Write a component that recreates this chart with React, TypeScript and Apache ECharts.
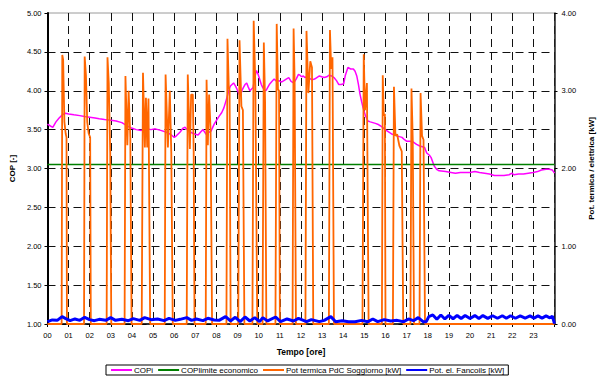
import React, { useEffect, useRef } from "react";
import * as echarts from "echarts";

const hourLabels = ["00","01","02","03","04","05","06","07","08","09","10","11","12","13","14","15","16","17","18","19","20","21","22","23"];
const copTicks = [1, 1.5, 2, 2.5, 3, 3.5, 4, 4.5, 5];
const legendNames = ["COPi", "COPlimite economico", "Pot termica PdC Soggiorno [kW]", "Pot. el. Fancoils [kW]"];

const copLimite = 3.05;

const copi: [number, number][] = [
  [0.00,3.57],[0.12,3.55],[0.25,3.53],[0.40,3.60],[0.55,3.65],[0.70,3.69],[0.85,3.71],[1.00,3.70],
  [1.25,3.69],[1.53,3.68],[1.75,3.67],[2.00,3.66],[2.25,3.65],[2.45,3.64],[2.70,3.63],[3.00,3.62],
  [3.25,3.61],[3.52,3.59],[3.75,3.55],[3.98,3.52],[4.20,3.50],[4.44,3.49],[4.65,3.51],[4.90,3.50],
  [5.10,3.51],[5.36,3.49],[5.60,3.47],[5.82,3.44],[6.00,3.40],[6.10,3.42],[6.28,3.47],[6.42,3.52],
  [6.51,3.53],[6.65,3.49],[6.82,3.46],[7.00,3.44],[7.13,3.43],[7.25,3.47],[7.36,3.50],[7.51,3.44],
  [7.62,3.46],[7.74,3.48],[7.89,3.57],[8.00,3.62],[8.12,3.67],[8.25,3.72],[8.35,3.78],[8.45,3.87],
  [8.51,3.93],[8.60,4.02],[8.66,4.06],[8.81,4.10],[8.90,4.06],[8.97,4.02],[9.05,3.97],[9.12,3.93],
  [9.20,4.00],[9.27,4.04],[9.35,4.08],[9.43,4.10],[9.50,4.05],[9.58,4.00],[9.65,4.02],[9.73,4.04],
  [9.82,4.18],[9.89,4.26],[9.96,4.22],[10.04,4.15],[10.12,4.08],[10.19,4.04],[10.27,4.01],[10.34,4.00],
  [10.42,4.04],[10.50,4.08],[10.62,4.12],[10.73,4.15],[10.85,4.12],[10.96,4.13],[11.07,4.11],[11.19,4.13],
  [11.30,4.15],[11.42,4.17],[11.53,4.12],[11.65,4.10],[11.77,4.15],[11.88,4.21],[11.95,4.20],[12.03,4.18],
  [12.11,4.19],[12.18,4.17],[12.30,4.18],[12.41,4.16],[12.52,4.14],[12.64,4.15],[12.75,4.17],[12.87,4.19],
  [12.98,4.18],[13.10,4.17],[13.22,4.18],[13.33,4.20],[13.45,4.19],[13.56,4.17],[13.68,4.13],[13.79,4.08],
  [13.90,4.08],[14.02,4.09],[14.10,4.20],[14.22,4.30],[14.35,4.28],[14.48,4.28],[14.56,4.25],[14.64,4.19],
  [14.72,4.08],[14.79,3.96],[14.87,3.86],[14.94,3.78],[15.05,3.68],[15.17,3.61],[15.28,3.60],[15.40,3.59],
  [15.52,3.58],[15.63,3.57],[15.75,3.55],[15.86,3.53],[15.98,3.50],[16.09,3.48],[16.20,3.46],[16.32,3.44],
  [16.44,3.43],[16.55,3.42],[16.66,3.41],[16.78,3.40],[16.90,3.37],[17.01,3.35],[17.16,3.35],[17.32,3.34],
  [17.47,3.31],[17.62,3.29],[17.75,3.28],[17.85,3.27],[17.95,3.20],[18.08,3.17],[18.16,3.14],[18.31,3.03],
  [18.42,2.99],[18.54,2.97],[18.85,2.96],[19.10,2.95],[19.31,2.94],[19.55,2.95],[19.77,2.95],[20.00,2.95],
  [20.23,2.96],[20.45,2.95],[20.69,2.94],[20.92,2.93],[21.15,2.91],[21.40,2.91],[21.61,2.91],[21.85,2.92],
  [21.99,2.94],[22.07,2.92],[22.30,2.93],[22.53,2.93],[22.76,2.94],[22.99,2.95],[23.20,2.96],[23.38,2.98],
  [23.60,2.99],[23.76,2.99],[23.90,2.98],[24.00,2.94]
];

const potTermica: [number, number][] = [
  [0,0],[0.67,0],[0.70,3.46],[0.74,3.40],[0.80,2.60],[0.86,2.45],[0.90,2.40],[0.92,0],
  [1.73,0],[1.76,3.44],[1.82,3.20],[1.88,2.60],[1.95,2.45],[2.02,2.40],[2.05,0],
  [2.80,0],[2.84,3.43],[2.90,3.10],[2.97,2.20],[3.02,0],
  [3.65,0],[3.69,3.19],[3.78,2.30],[3.84,3.00],[3.92,2.40],[3.98,0],
  [4.46,0],[4.52,3.23],[4.61,2.27],[4.66,2.91],[4.72,2.27],[4.78,2.90],[4.86,0],
  [5.55,0],[5.59,3.21],[5.70,2.27],[5.79,3.00],[5.86,2.20],[5.93,0],
  [6.59,0],[6.64,3.21],[6.74,2.25],[6.80,2.95],[6.88,2.95],[6.92,2.20],[6.96,0],
  [7.49,0],[7.53,3.14],[7.59,2.30],[7.65,2.95],[7.72,2.50],[7.79,0],
  [8.47,0],[8.52,3.67],[8.58,3.06],[8.62,3.00],[8.67,0],
  [9.03,0],[9.09,3.65],[9.18,2.80],[9.25,2.75],[9.32,0],
  [9.70,0],[9.76,3.90],[9.84,3.06],[9.93,0],
  [10.18,0],[10.24,3.62],[10.30,2.85],[10.36,0],
  [10.79,0],[10.85,3.86],[10.91,3.02],[10.96,3.00],[11.00,0],
  [11.60,0],[11.65,3.80],[11.70,3.10],[11.76,0],
  [12.21,0],[12.26,3.77],[12.35,2.97],[12.44,3.38],[12.52,3.30],[12.58,0],
  [13.32,0],[13.37,3.78],[13.43,3.28],[13.49,3.43],[13.56,0],
  [14.91,0],[14.97,3.47],[15.03,2.75],[15.12,3.10],[15.20,0],
  [15.83,0],[15.87,3.20],[15.92,2.68],[15.97,2.70],[16.00,0],
  [16.35,0],[16.40,3.05],[16.47,2.42],[16.55,2.44],[16.66,2.29],[16.77,2.22],[16.84,0],
  [17.18,0],[17.23,3.03],[17.29,2.37],[17.35,0],
  [17.61,0],[17.66,2.97],[17.73,2.42],[17.80,2.37],[17.87,0],
  [24,0]
];

const potFancoils: [number, number][] = [
  [0.00,0.030],[0.23,0.052],[0.46,0.047],[0.69,0.095],[0.84,0.073],[1.07,0.043],[1.30,0.065],[1.53,0.047],
  [1.76,0.086],[1.99,0.056],[2.22,0.043],[2.45,0.060],[2.76,0.047],[2.99,0.082],[3.22,0.047],[3.52,0.060],
  [3.83,0.043],[4.06,0.069],[4.37,0.047],[4.60,0.082],[4.90,0.056],[5.21,0.065],[5.52,0.043],[5.75,0.073],
  [6.05,0.047],[6.28,0.060],[6.59,0.082],[6.82,0.047],[7.05,0.065],[7.36,0.043],[7.59,0.073],[7.89,0.052],
  [8.12,0.047],[8.43,0.095],[8.66,0.039],[8.89,0.086],[9.12,0.030],[9.35,0.090],[9.58,0.039],[9.81,0.082],
  [10.04,0.030],[10.19,0.082],[10.42,0.039],[10.80,0.090],[11.03,0.030],[11.34,0.065],[11.65,0.039],[11.88,0.073],
  [12.26,0.030],[12.49,0.056],[12.87,0.030],[13.10,0.047],[13.41,0.095],[13.64,0.030],[13.95,0.043],[14.25,0.030],
  [14.56,0.030],[14.87,0.047],[15.17,0.030],[15.40,0.065],[15.63,0.030],[15.94,0.056],[16.25,0.039],[16.55,0.047],
  [16.86,0.030],[17.09,0.065],[17.32,0.043],[17.55,0.082],[17.78,0.030],[17.93,0.030],[18.05,0.095],[18.24,0.116],
  [18.43,0.060],[18.62,0.116],[18.81,0.065],[19.00,0.112],[19.20,0.068],[19.39,0.110],[19.58,0.070],[19.77,0.110],
  [20.00,0.070],[20.23,0.108],[20.42,0.072],[20.61,0.108],[20.84,0.072],[21.07,0.106],[21.30,0.074],[21.53,0.106],
  [21.72,0.074],[21.92,0.106],[22.15,0.074],[22.38,0.104],[22.61,0.076],[22.84,0.104],[23.03,0.076],[23.22,0.104],
  [23.41,0.076],[23.60,0.104],[23.78,0.080],[23.90,0.100],[24.00,0.005]
];

const FONT = "'Liberation Sans', Arial, sans-serif";

export default function App() {
  const ref = useRef<HTMLDivElement>(null);
  useEffect(() => {
    if (!ref.current) return;
    const chart = echarts.init(ref.current, undefined, { renderer: "svg" });
    const gridColors = copTicks.map((t, i) => (i === copTicks.length - 1 ? "transparent" : "#111"));
    chart.setOption({
      animation: false,
      backgroundColor: "#fff",
      textStyle: { fontFamily: FONT },
      grid: { left: 46, right: 34, top: 13, bottom: 55, show: true, borderColor: "#9a9a9a", borderWidth: 1, backgroundColor: "transparent" },
      legend: {
        data: legendNames,
        left: 106,
        top: 365,
        padding: [1, 4, 1, 4],
        itemGap: 4,
        itemWidth: 21,
        itemHeight: 10,
        itemStyle: { opacity: 0 },
        borderColor: "#000",
        borderWidth: 1,
        textStyle: { fontSize: 8, color: "#000", fontFamily: FONT, padding: [0, 0, 0, -3] },
      },
      xAxis: {
        type: "value",
        min: 0,
        max: 24,
        interval: 1,
        name: "Tempo [ore]",
        nameLocation: "middle",
        nameGap: 23,
        nameTextStyle: { fontSize: 8.5, fontWeight: "bold", color: "#000", fontFamily: FONT },
        axisLine: { onZero: false, lineStyle: { color: "#000", width: 1.5 } },
        axisTick: { show: true, length: 3, lineStyle: { color: "#000" } },
        axisLabel: {
          fontSize: 7.5,
          color: "#000",
          margin: 7,
          fontFamily: FONT,
          formatter: (v: number) => hourLabels[v] ?? "",
        },
        splitLine: { show: true, lineStyle: { color: "#111", type: [8, 5], width: 1 } },
      },
      yAxis: [
        {
          type: "value",
          min: 1,
          max: 5,
          interval: 0.5,
          name: "COP [-]",
          nameLocation: "middle",
          nameGap: 28,
          nameTextStyle: { fontSize: 8, fontWeight: "bold", color: "#000", fontFamily: FONT },
          axisLine: { show: true, lineStyle: { color: "#000", width: 2 } },
          axisTick: { show: true, length: 3, lineStyle: { color: "#000" } },
          axisLabel: { fontSize: 7.5, color: "#000", margin: 6, fontFamily: FONT, formatter: (v: number) => v.toFixed(2) },
          splitLine: { show: true, lineStyle: { color: gridColors, type: [8, 5], width: 1 } },
        },
        {
          type: "value",
          min: 0,
          max: 4,
          interval: 1,
          position: "right",
          name: "Pot. termica / elettrica [kW]",
          nameLocation: "middle",
          nameGap: 31,
          nameTextStyle: { fontSize: 8, fontWeight: "bold", color: "#000", fontFamily: FONT },
          axisLine: { show: true, lineStyle: { color: "#222", width: 1.5 } },
          axisTick: { show: true, length: 3, lineStyle: { color: "#000" } },
          axisLabel: { fontSize: 7.5, color: "#000", margin: 7, fontFamily: FONT, formatter: (v: number) => v.toFixed(2) },
          splitLine: { show: false },
        },
      ],
      series: [
        {
          name: legendNames[0],
          type: "line",
          yAxisIndex: 0,
          data: copi,
          symbol: "none",
          lineStyle: { color: "#FF00FF", width: 1.5 },
          itemStyle: { color: "#FF00FF" },
        },
        {
          name: legendNames[1],
          type: "line",
          yAxisIndex: 0,
          data: [[0, copLimite], [24, copLimite]],
          symbol: "none",
          lineStyle: { color: "#008000", width: 1.5 },
          itemStyle: { color: "#008000" },
        },
        {
          name: legendNames[2],
          type: "line",
          yAxisIndex: 1,
          data: potTermica,
          symbol: "none",
          lineStyle: { color: "#FF6600", width: 1.8 },
          itemStyle: { color: "#FF6600" },
        },
        {
          name: legendNames[3],
          type: "line",
          yAxisIndex: 1,
          data: potFancoils,
          symbol: "none",
          lineStyle: { color: "#0000FF", width: 3 },
          itemStyle: { color: "#0000FF" },
        },
      ],
    });
    return () => chart.dispose();
  }, []);
  return <div ref={ref} style={{ position: "fixed", left: 0, top: 0, width: 603, height: 379 }} />;
}
